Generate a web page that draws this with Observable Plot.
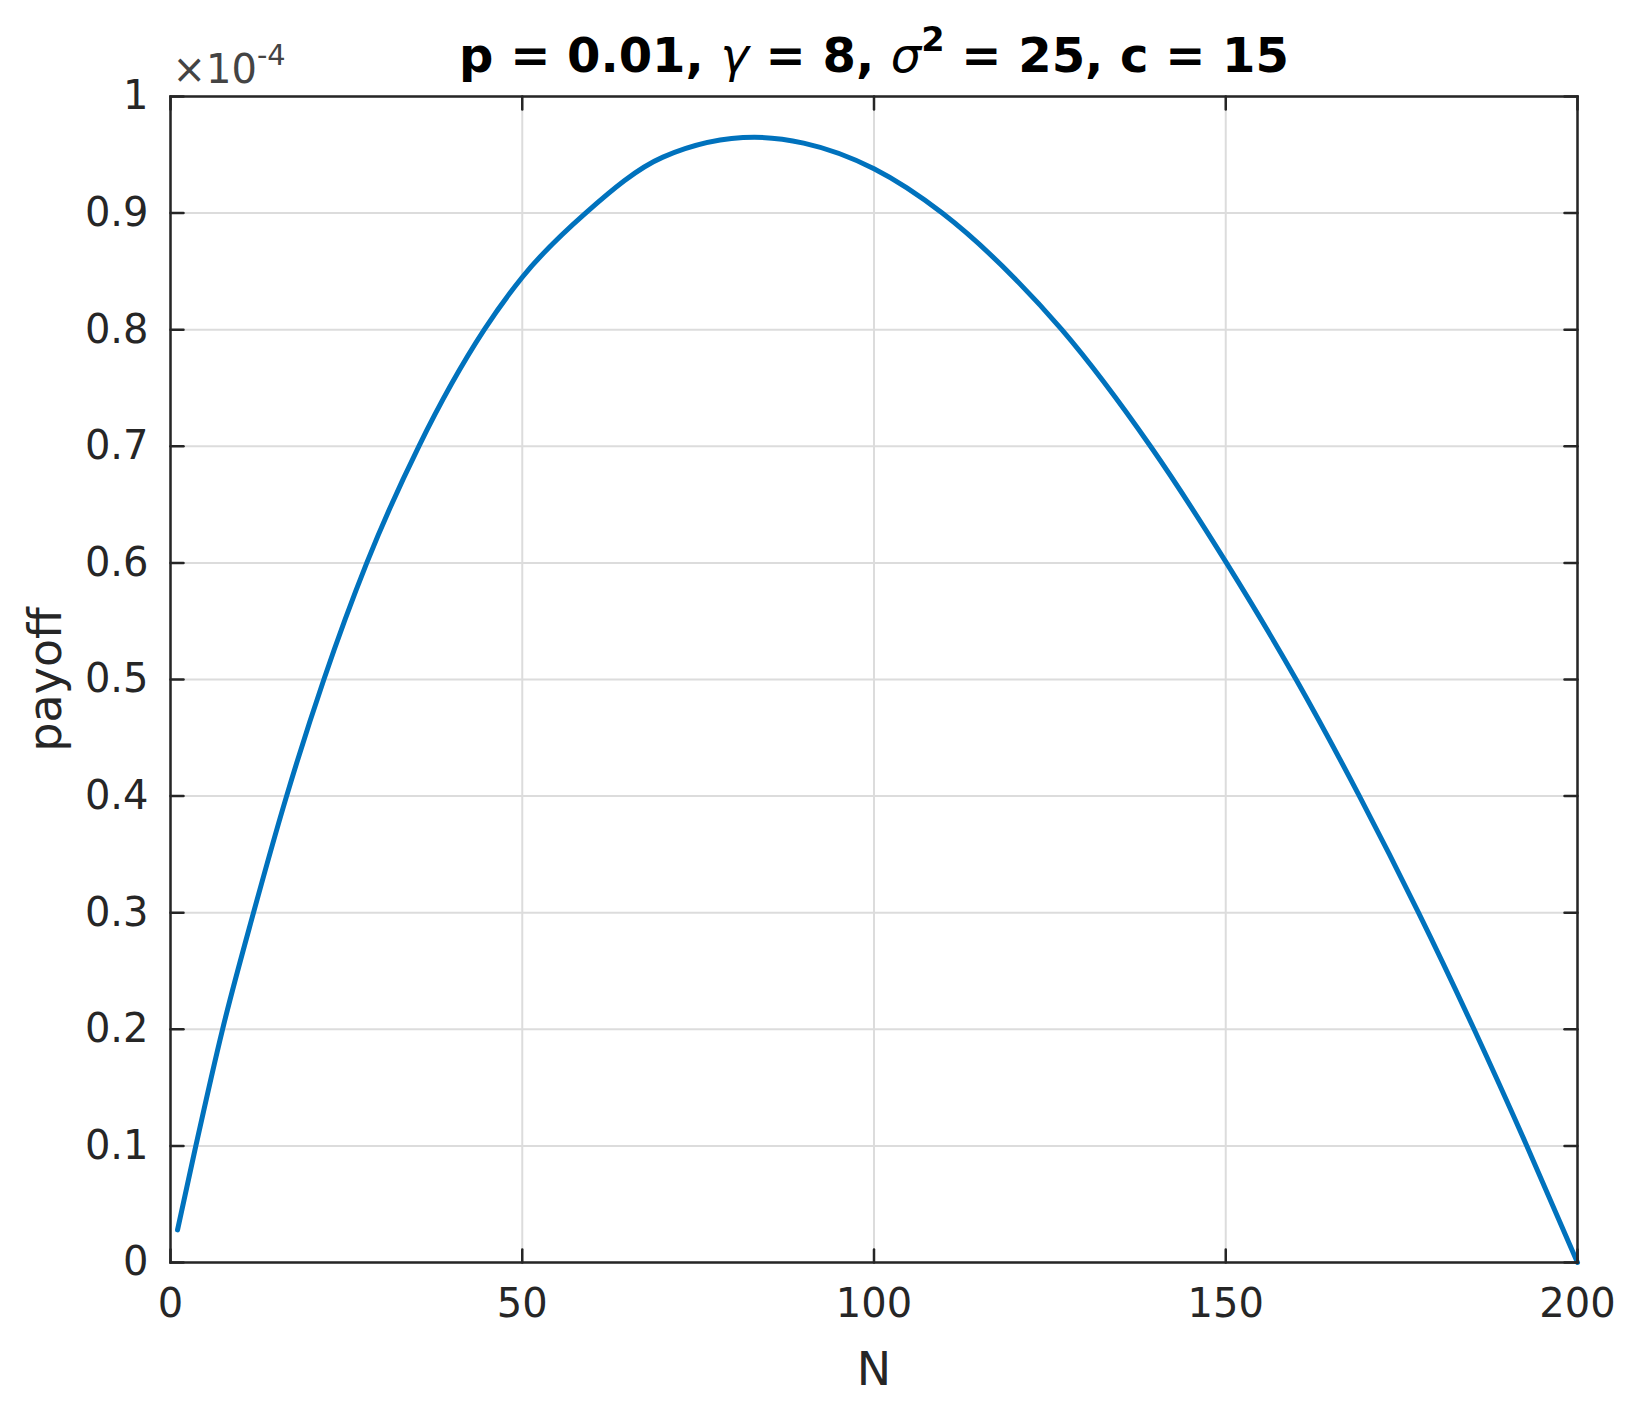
<!DOCTYPE html>
<html><head><meta charset="utf-8">
<script src="https://cdn.jsdelivr.net/npm/d3@7"></script>
<script src="https://cdn.jsdelivr.net/npm/@observablehq/plot@0.6"></script>
<style>body{margin:0;background:#fff} svg{display:block}</style>
</head><body><div id="chart"></div>
<script>
// ---- data (payoff in units of 1e-4) ----
const N      = [1, 3.6, 7.4, 11.8, 16.5, 21.8, 27.9, 35.3, 44.6, 50, 59, 70, 83, 90, 100, 109.7, 120, 126.7, 139.3, 150.1, 160, 169, 177.4, 185.3, 192.8, 200];
const payoff = [0.028, 0.1, 0.2, 0.3, 0.4, 0.5, 0.6, 0.7, 0.8, 0.845, 0.9, 0.948, 0.965, 0.960, 0.938, 0.9, 0.844, 0.8, 0.7, 0.6, 0.5, 0.4, 0.3, 0.2, 0.1, 0];
const xTicks = [0, 50, 100, 150, 200];
const xTickLabels = ["0", "50", "100", "150", "200"];
const yTicks = [0, 0.1, 0.2, 0.3, 0.4, 0.5, 0.6, 0.7, 0.8, 0.9, 1];
const yTickLabels = ["0", "0.1", "0.2", "0.3", "0.4", "0.5", "0.6", "0.7", "0.8", "0.9", "1"];
const titleParts = [
  {text: "p = 0.01, "},
  {text: "γ", italic: true},
  {text: " = 8, "},
  {text: "σ", italic: true},
  {text: "2", sup: true},
  {text: " = 25, c = 15"}
];
const exponentBase = "×10";
const exponentPower = "-4";
const xLabel = "N";
const yLabel = "payoff";

const data = N.map((n, i) => ({N: n, payoff: payoff[i]}));
const xFmt = new Map(xTicks.map((t, i) => [t, xTickLabels[i]]));
const yFmt = new Map(yTicks.map((t, i) => [t, yTickLabels[i]]));
const titlePlain = titleParts.map(p => p.text).join("");

const ink = "#262626";
const tickShape = {draw(ctx, l) { ctx.moveTo(0, 0); ctx.lineTo(0, -l); }};
const tickLen = 13;
const vec = (vals, ch, frameAnchor, rotate) => Plot.vector(vals, {
  [ch]: d => d, frameAnchor, rotate, length: tickLen, anchor: "start",
  shape: tickShape, stroke: ink, strokeWidth: 2.5
});

const chart = Plot.plot({
  width: 1640,
  height: 1410,
  marginLeft: 170,
  marginRight: 63,
  marginTop: 96,
  marginBottom: 148,
  style: {fontFamily: "DejaVu Sans", color: ink, background: "#fff"},
  x: {domain: [0, 200]},
  y: {domain: [0, 1]},
  marks: [
    Plot.ruleY(yTicks, {stroke: "#dcdcdc", strokeWidth: 2}),
    Plot.ruleX(xTicks, {stroke: "#dcdcdc", strokeWidth: 2}),
    Plot.line(data, {x: "N", y: "payoff", stroke: "#0072BD", strokeWidth: 5, curve: "monotone-x"}),
    Plot.frame({stroke: ink, strokeWidth: 2.5}),
    vec(yTicks, "y", "left", 90),
    vec(yTicks, "y", "right", -90),
    vec(xTicks, "x", "bottom", 0),
    vec(xTicks, "x", "top", 180),
    Plot.axisX(xTicks, {anchor: "bottom", tickSize: 0, tickPadding: 26, fontSize: 40, label: null, tickFormat: d => xFmt.get(d)}),
    Plot.axisY(yTicks, {anchor: "left", tickSize: 0, tickPadding: 22, fontSize: 40, label: null, tickFormat: d => yFmt.get(d)}),
    Plot.text([xLabel], {frameAnchor: "bottom", textAnchor: "middle", lineAnchor: "bottom", dy: 122, fontSize: 46, fill: ink}),
    Plot.text([yLabel], {frameAnchor: "left", textAnchor: "middle", rotate: -90, lineAnchor: "middle", dx: -124, fontSize: 46, fill: ink}),
    Plot.text([titlePlain], {frameAnchor: "top", textAnchor: "middle", lineAnchor: "bottom", dy: -25, fontSize: 48, fontWeight: "bold", fill: "#000"}),
    Plot.text([exponentBase + exponentPower], {frameAnchor: "top-left", textAnchor: "start", lineAnchor: "bottom", dx: 2, dy: -14, fontSize: 40, fill: ink})
  ]
});

document.getElementById("chart").appendChild(chart);

// rich text: italic greek letters and superscripts
const svgNS = "http://www.w3.org/2000/svg";
for (const t of chart.querySelectorAll("text")) {
  if (t.textContent === titlePlain) {
    t.textContent = "";
    let raised = false;
    for (const p of titleParts) {
      const s = document.createElementNS(svgNS, "tspan");
      s.textContent = p.text;
      if (p.italic) { s.setAttribute("font-style", "italic"); s.setAttribute("font-weight", "normal"); }
      if (p.sup) { s.setAttribute("font-size", "0.7em"); s.setAttribute("dy", "-0.6em"); raised = true; }
      else if (raised) { s.setAttribute("dy", "0.42em"); raised = false; }
      t.appendChild(s);
    }
  } else if (t.textContent === exponentBase + exponentPower) {
    t.textContent = "";
    const a = document.createElementNS(svgNS, "tspan");
    a.textContent = exponentBase;
    a.setAttribute("fill", "#444");
    const b = document.createElementNS(svgNS, "tspan");
    b.textContent = exponentPower;
    b.setAttribute("font-size", "0.72em");
    b.setAttribute("dy", "-0.62em");
    b.setAttribute("fill", "#444");
    t.appendChild(a); t.appendChild(b);
  }
}
</script></body></html>
